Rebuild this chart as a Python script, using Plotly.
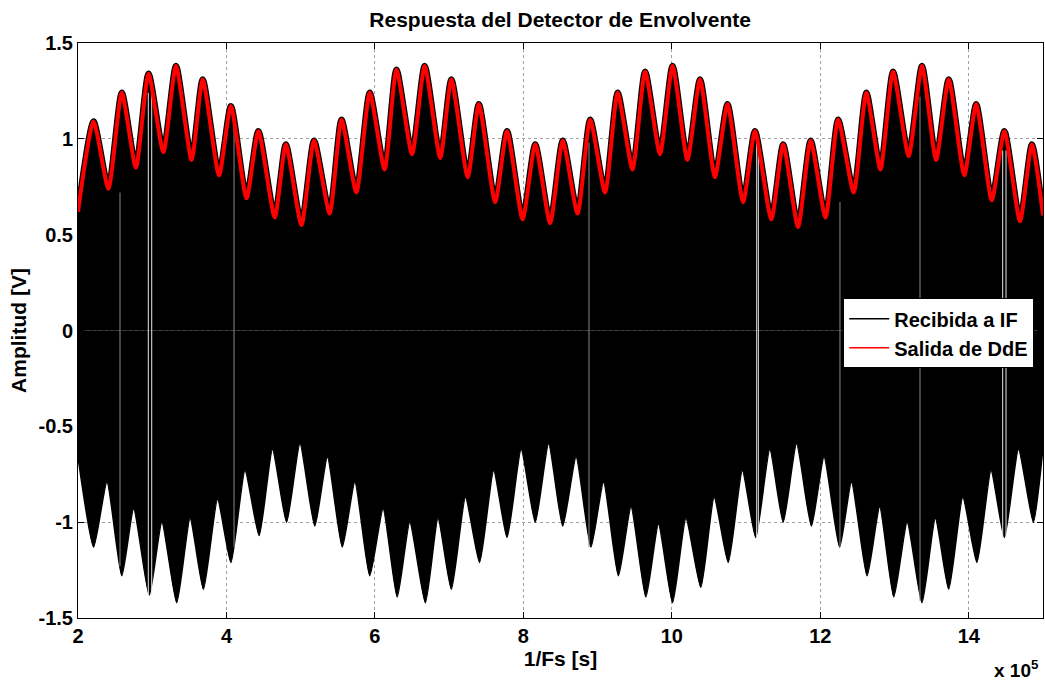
import plotly.graph_objects as go

# ---- data (x in units of 1e5) ----
x_upper = [2.00, 2.21, 2.41, 2.59, 2.78, 2.95, 3.15, 3.32, 3.53, 3.68, 3.90, 4.06, 4.27, 4.43, 4.65,
           4.80, 5.01, 5.18, 5.39, 5.55, 5.75, 5.93, 6.13, 6.29, 6.50, 6.67, 6.88, 7.03, 7.25, 7.40,
           7.62, 7.78, 7.99, 8.16, 8.36, 8.53, 8.73, 8.90, 9.10, 9.27, 9.47, 9.64, 9.84, 10.01, 10.21,
           10.38, 10.58, 10.75, 10.96, 11.12, 11.34, 11.50, 11.70, 11.87, 12.07, 12.24, 12.45, 12.62,
           12.81, 12.98, 13.19, 13.37, 13.56, 13.73, 13.94, 14.10, 14.31, 14.48, 14.69, 14.85, 15.00]
y_upper = [0.62, 1.09, 0.74, 1.24, 0.85, 1.34, 0.93, 1.38, 0.89, 1.31, 0.81, 1.17, 0.69, 1.04, 0.59,
           0.97, 0.55, 0.99, 0.61, 1.10, 0.72, 1.24, 0.84, 1.36, 0.92, 1.38, 0.90, 1.31, 0.80, 1.18,
           0.67, 1.04, 0.58, 0.97, 0.56, 0.99, 0.61, 1.10, 0.72, 1.24, 0.84, 1.35, 0.92, 1.38, 0.89,
           1.31, 0.80, 1.18, 0.67, 1.04, 0.58, 0.97, 0.54, 0.99, 0.59, 1.10, 0.72, 1.24,
           0.84, 1.35, 0.91, 1.38, 0.89, 1.31, 0.81, 1.18, 0.68, 1.04, 0.57, 0.97, 0.60]

x_lower = [2.00, 2.21, 2.39, 2.59, 2.75, 2.96, 3.13, 3.33, 3.51, 3.69, 3.88, 4.06, 4.25, 4.44, 4.62,
           4.81, 4.99, 5.19, 5.36, 5.56, 5.73, 5.93, 6.11, 6.30, 6.47, 6.68, 6.85, 7.03, 7.22, 7.41,
           7.60, 7.78, 7.97, 8.16, 8.34, 8.53, 8.71, 8.91, 9.08, 9.28, 9.45, 9.65, 9.82, 10.01, 10.19,
           10.39, 10.57, 10.76, 10.95, 11.13, 11.32, 11.50, 11.68, 11.88, 12.05, 12.26, 12.42, 12.63,
           12.80, 12.99, 13.17, 13.37, 13.55, 13.73, 13.92, 14.11, 14.30, 14.48, 14.67, 14.87, 15.00]
y_lower = [-0.66, -1.13, -0.79, -1.28, -0.93, -1.38, -1.00, -1.42, -0.98, -1.35, -0.88, -1.21, -0.73, -1.07, -0.62,
           -1.00, -0.59, -1.02, -0.66, -1.13, -0.79, -1.28, -0.93, -1.39, -1.00, -1.42, -0.98, -1.35, -0.87, -1.21,
           -0.73, -1.08, -0.62, -1.00, -0.59, -1.02, -0.66, -1.13, -0.79, -1.28, -0.92, -1.39, -1.01, -1.42, -0.98,
           -1.34, -0.87, -1.21, -0.73, -1.08, -0.62, -1.00, -0.59, -1.02, -0.66, -1.13, -0.79, -1.28,
           -0.92, -1.39, -1.00, -1.42, -0.98, -1.35, -0.87, -1.21, -0.73, -1.08, -0.62, -1.00, -0.61]

# thin gaps visible through the dense carrier
gap_faint_x = [2.566, 4.102, 8.884, 12.265, 13.343]
gap_faint_top = [0.72, 1.06, 0.98, 0.67, 1.22]
gap_faint_bottom = [-1.23, -1.13, -1.13, -1.13, -1.41]
gap_white_x = [2.947, 2.993, 11.143, 11.165, 14.457, 14.502]
gap_white_top = [1.24, 1.24, 0.98, 0.98, 0.94, 0.94]
gap_white_bottom = [-1.38, -1.38, -1.08, -1.08, -1.08, -1.08]

x_tick_vals = [2, 4, 6, 8, 10, 12, 14]
x_tick_text = ["2", "4", "6", "8", "10", "12", "14"]
y_tick_vals = [-1.5, -1, -0.5, 0, 0.5, 1, 1.5]
y_tick_text = ["-1.5", "-1", "-0.5", "0", "0.5", "1", "1.5"]

series_names = ["Recibida a IF", "Salida de DdE"]
series_colors = ["#000000", "#ff0000"]

FONT = "Arial, 'Liberation Sans', Helvetica, sans-serif"


def segments(xs, tops, bottoms):
    sx, sy = [], []
    for x, t, b in zip(xs, tops, bottoms):
        sx += [x, x, None]
        sy += [t, b, None]
    return sx, sy


fig = go.Figure()

# dense IF carrier drawn as its filled envelope
fig.add_trace(go.Scatter(x=x_lower, y=y_lower, mode="lines", fill="tozeroy",
                         fillcolor=series_colors[0],
                         line=dict(color=series_colors[0], width=1.5, shape="spline", smoothing=0.55),
                         showlegend=False, hoverinfo="skip"))
fig.add_trace(go.Scatter(x=x_upper, y=y_upper, mode="lines", fill="tozeroy",
                         fillcolor=series_colors[0],
                         line=dict(color=series_colors[0], width=6.5, shape="spline", smoothing=0.6),
                         showlegend=False, hoverinfo="skip"))

fx, fy = segments(gap_faint_x, gap_faint_top, gap_faint_bottom)
fig.add_trace(go.Scatter(x=fx, y=fy, mode="lines", line=dict(color="#8a8a8a", width=1),
                         showlegend=False, hoverinfo="skip"))
wx, wy = segments(gap_white_x, gap_white_top, gap_white_bottom)
fig.add_trace(go.Scatter(x=wx, y=wy, mode="lines", line=dict(color="#e8e8e8", width=1),
                         showlegend=False, hoverinfo="skip"))

# envelope detector output
fig.add_trace(go.Scatter(x=x_upper, y=y_upper, mode="lines",
                         line=dict(color=series_colors[1], width=4, shape="spline", smoothing=0.6),
                         showlegend=False, hoverinfo="skip"))

# legend entries
for name, col in zip(series_names, series_colors):
    fig.add_trace(go.Scatter(x=[None], y=[None], mode="lines", name=name,
                             line=dict(color=col, width=1.5)))

axis_common = dict(
    automargin=False,
    ticks="inside", ticklen=6, tickcolor="#000000", tickwidth=1,
    showline=True, linecolor="#000000", linewidth=1, mirror="allticks",
    showgrid=True, gridcolor="#a0a0a0", griddash="dot", gridwidth=1,
    zeroline=False,
    tickfont=dict(family=FONT, size=20, color="#000000", weight="bold"),
)

fig.update_layout(
    width=1045, height=681,
    margin=dict(l=78, r=2, t=43, b=63, autoexpand=False),
    paper_bgcolor="#ffffff", plot_bgcolor="#ffffff",
    title=dict(text="Respuesta del Detector de Envolvente", x=0.536, xanchor="center",
               y=1 - 20 / 681, yanchor="middle",
               font=dict(family=FONT, size=21, color="#000000", weight="bold")),
    xaxis=dict(range=[2, 15], tickvals=x_tick_vals, ticktext=x_tick_text,
               title=dict(text="1/Fs [s]", standoff=4,
                          font=dict(family=FONT, size=21, color="#000000", weight="bold")),
               **axis_common),
    yaxis=dict(range=[-1.5, 1.5], tickvals=y_tick_vals, ticktext=y_tick_text,
               title=dict(text="Amplitud [V]", standoff=6,
                          font=dict(family=FONT, size=21, color="#000000", weight="bold")),
               **axis_common),
    legend=dict(x=0.793, y=0.556, xanchor="left", yanchor="top",
                bgcolor="#ffffff", bordercolor="#000000", borderwidth=1,
                font=dict(family=FONT, size=20, color="#000000", weight="bold"),
                tracegroupgap=0, itemwidth=40),
    annotations=[dict(text="x 10<sup>5</sup>", xref="paper", yref="paper", x=0.998, y=-0.088,
                      xanchor="right", yanchor="middle", showarrow=False,
                      font=dict(family=FONT, size=19, color="#000000", weight="bold"))],
    showlegend=True,
)

fig.write_html("out.html", config={"displayModeBar": False},
               post_script="document.body.style.margin='0px';document.body.style.overflow='hidden';")
